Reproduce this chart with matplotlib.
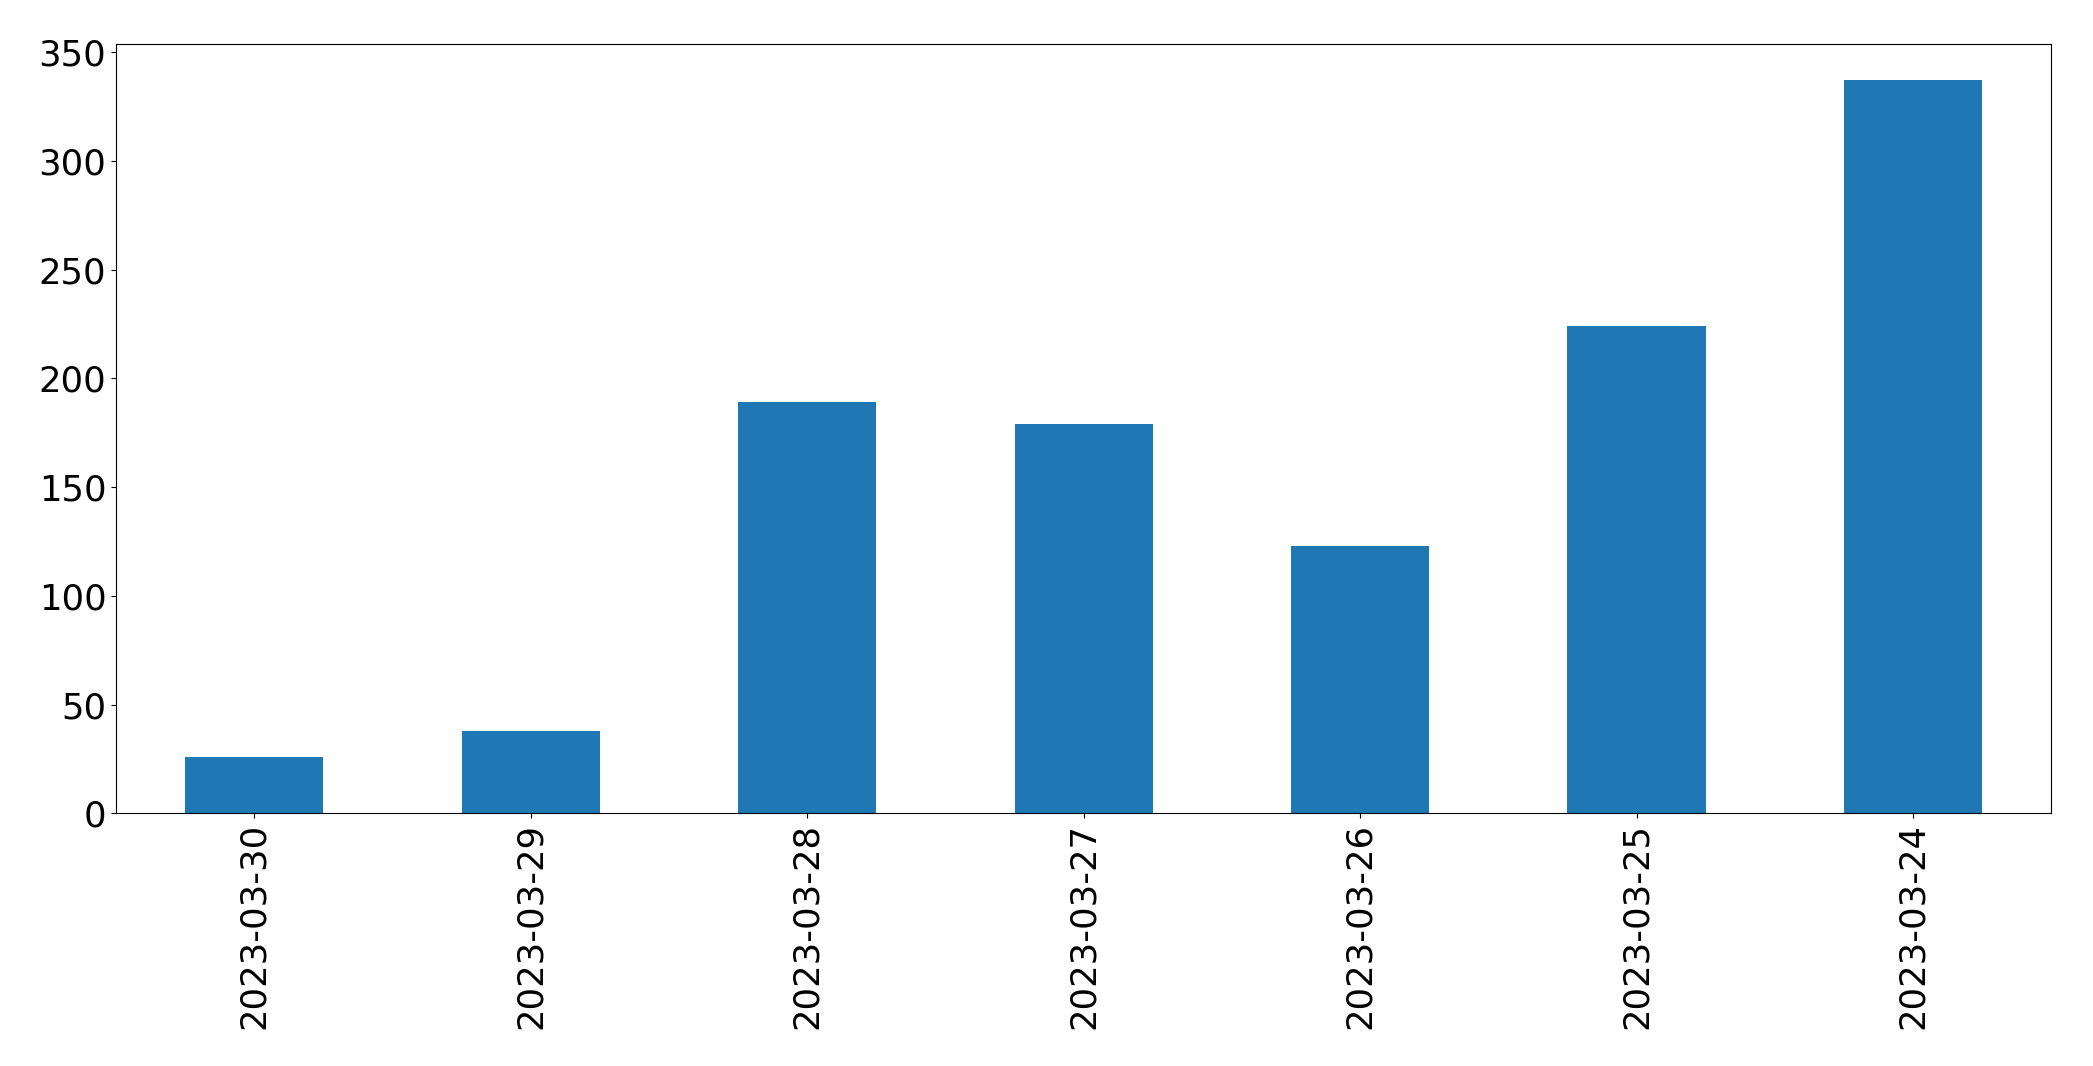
import matplotlib
matplotlib.use("Agg")
import matplotlib.pyplot as plt
import numpy as np

# daily counts, newest first (as in the original index order)
dates = ["2023-03-30", "2023-03-29", "2023-03-28", "2023-03-27",
         "2023-03-26", "2023-03-25", "2023-03-24"]
counts = [26, 38, 189, 179, 123, 224, 337]

fig, ax = plt.subplots(figsize=(20.93, 10.66), dpi=100)
plt.subplots_adjust(left=0.0555, right=0.980, top=0.959, bottom=0.237)

x = np.arange(len(dates))
ax.bar(x, counts, width=0.5, color="#1f77b4")
ax.set_xticks(x)
ax.set_xticklabels(dates, rotation=90)
ax.set_xlim(-0.5, len(dates) - 0.5)
ax.tick_params(axis="both", labelsize=25.5)

fig.savefig("out.png", dpi=100)
